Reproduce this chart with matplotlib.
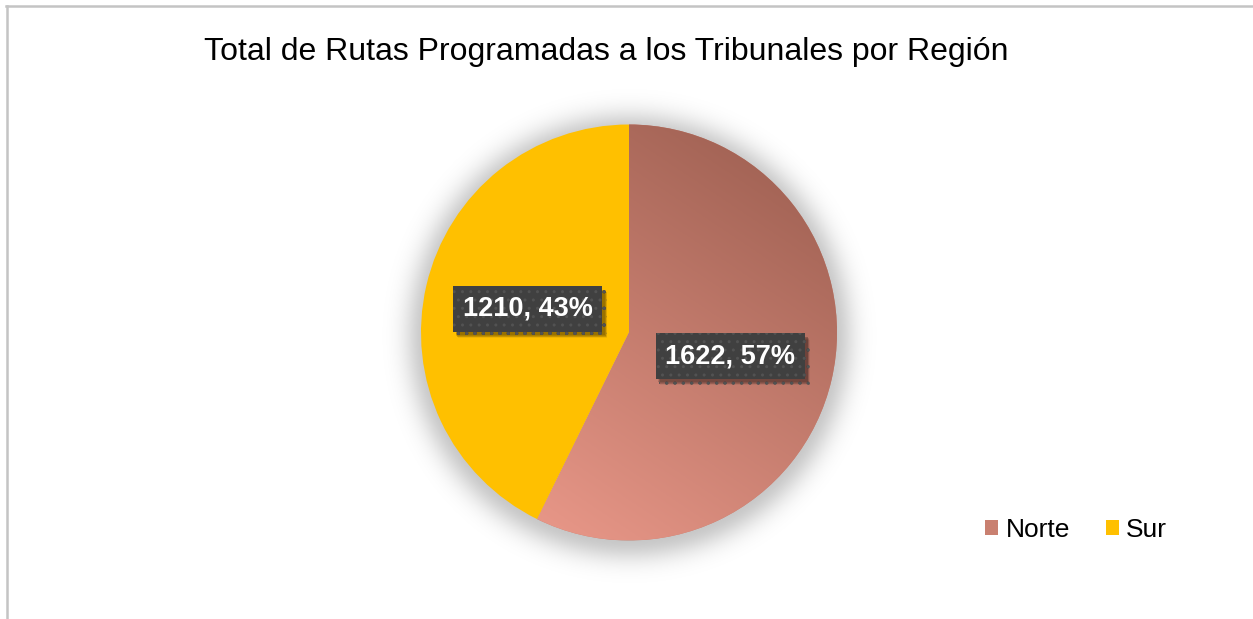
import numpy as np
import matplotlib
matplotlib.use("Agg")
import matplotlib.pyplot as plt
from matplotlib import patheffects
from matplotlib.patches import Patch
from matplotlib.lines import Line2D

plt.rcParams['font.family'] = ['Liberation Sans', 'DejaVu Sans']

title = "Total de Rutas Programadas a los Tribunales por Región"
categories = ["Norte", "Sur"]
values = [1622, 1210]
colors = ["#c98070", "#ffc000"]
grad_dark = np.array([0x9c, 0x5e, 0x50]) / 255
grad_light = np.array([0xe8, 0x97, 0x88]) / 255

W, H = 1253, 619
fig = plt.figure(figsize=(W / 100, H / 100), dpi=100)
ax = fig.add_axes([0, 0, 1, 1])
ax.set_xlim(0, W)
ax.set_ylim(0, H)
ax.set_aspect('equal')
ax.axis('off')

cx, cy, R = 629, H - 332.5, 208

# soft shadow around the pie
yy, xx = np.mgrid[0:H, 0:W]
d = np.hypot(xx - cx, (H - yy) - (cy - 3))
alpha = np.where(d > R - 5, 0.22 * np.exp(-((d - R + 5) / 22.0) ** 2), 0.22)
sh = np.zeros((H, W, 4))
sh[..., 3] = alpha
ax.imshow(sh, extent=(0, W, 0, H), origin='upper', zorder=0, interpolation='bilinear')

total = sum(values)
wedges, texts, autotexts = ax.pie(
    values, colors=colors, startangle=90, counterclock=False,
    center=(cx, cy), radius=R, pctdistance=0.5,
    autopct=lambda p: f"{int(round(p * total / 100))}, {p:.0f}%",
    wedgeprops=dict(linewidth=0), frame=True)
ax.set_xlim(0, W)
ax.set_ylim(0, H)
ax.axis('off')
for w in wedges:
    w.set_zorder(2)

# gradient fill for Norte
n = 300
gy, gx = np.mgrid[0:n, 0:n] / (n - 1)
t = np.clip((gx * 0.4 + (1 - gy) * 0.6) * 1.2 - 0.15, 0, 1)  # 1 at top-right
img = grad_light[None, None, :] * (1 - t[..., None]) + grad_dark[None, None, :] * t[..., None]
im = ax.imshow(img, extent=(cx - R, cx + R, cy - R, cy + R), origin='upper', zorder=3)
im.set_clip_path(wedges[0])

for at in autotexts:
    at.set_color('white')
    at.set_fontsize(19.5)
    at.set_fontweight('bold')
    at.set_zorder(6)
    at.set_bbox(dict(boxstyle='square,pad=0.36', facecolor='#404040',
                     edgecolor='#525252', linewidth=0, hatch='..'))
    effects = []
    for k, a in [(1, 0.12), (2, 0.12), (3, 0.1), (4, 0.08), (5, 0.06)]:
        effects.append(patheffects.SimplePatchShadow(offset=(1.5 + k * 0.4, -2 - k * 0.5),
                                                     shadow_rgbFace='black', alpha=a))
    effects.append(patheffects.Normal())
    at.get_bbox_patch().set_path_effects(effects)

fig.text(606.5 / W, 1 - 52 / H, title, ha='center', va='center', fontsize=23, color='#000000')

handles = [Patch(facecolor=c, edgecolor='none') for c in colors]
fig.legend(handles, categories, loc='center', bbox_to_anchor=(1076 / W, 1 - 530 / H),
           ncol=2, frameon=False, fontsize=19, handlelength=0.5, handleheight=0.5,
           handletextpad=0.27, columnspacing=1.35)

fig.add_artist(Line2D([6 / W, 1], [1 - 6 / H, 1 - 6 / H], color='#c4c4c4', linewidth=1.8))
fig.add_artist(Line2D([6.5 / W, 6.5 / W], [0, 1 - 6 / H], color='#c4c4c4', linewidth=1.8))

fig.savefig("out.png", dpi=100)
